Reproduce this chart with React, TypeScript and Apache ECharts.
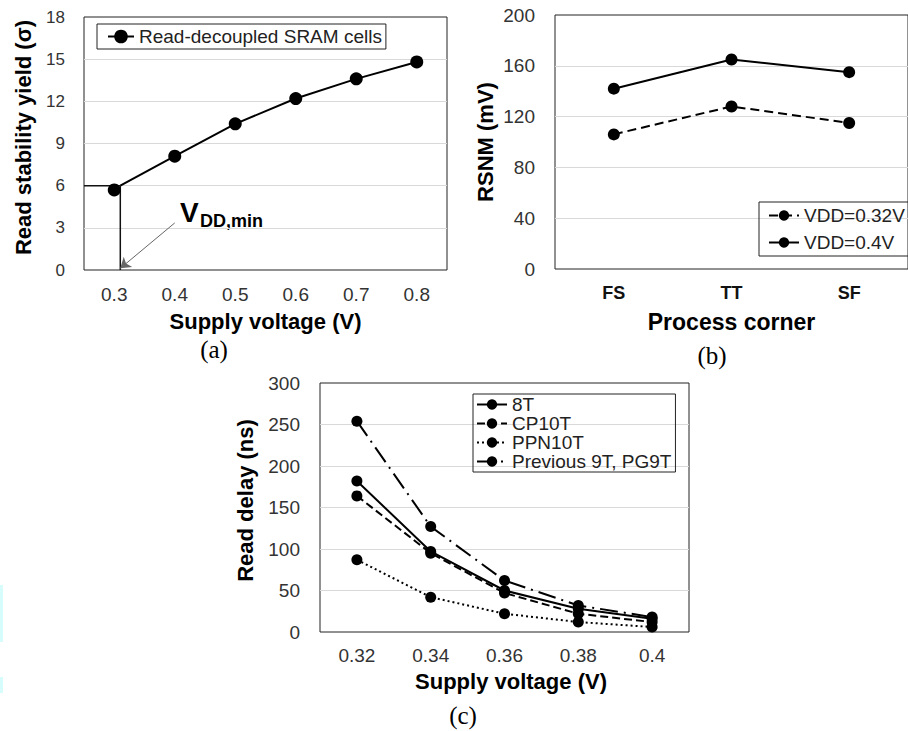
import React, { useEffect, useRef } from "react";
import * as echarts from "echarts";

// ---- Panel (a): read stability yield ----
const voltA = [0.3, 0.4, 0.5, 0.6, 0.7, 0.8];
const yieldA = [5.7, 8.1, 10.4, 12.2, 13.6, 14.8];
const vddMin = 0.31;
const yieldTarget = 6;
const arrowFrom = [0.4, 3.35];
const arrowTo = [0.31, 0.12];

// ---- Panel (b): RSNM by process corner ----
const corners = ["FS", "TT", "SF"];
const rsnm032 = [106, 128, 115];
const rsnm04 = [142, 165, 155];

// ---- Panel (c): read delay ----
const voltC = ["0.32", "0.34", "0.36", "0.38", "0.4"];
const delay8T = [182, 97, 50, 28, 16];
const delayCP10T = [164, 95, 47, 22, 12];
const delayPPN10T = [87, 42, 22, 12, 6];
const delayPG9T = [254, 127, 62, 32, 18];

const FONT = "'Liberation Sans', Arial, sans-serif";
const SERIF = "'Liberation Serif', 'Times New Roman', serif";
const GRID_COLOR = "#d9d9d9";
const BORDER = "#222";
const LABEL = "#333";

const nameStyle = (extra: any = {}) => ({
  fontSize: 22,
  fontWeight: "bold",
  color: "#000",
  fontFamily: FONT,
  ...extra,
});

const ySplit = {
  show: true,
  showMinLine: false,
  showMaxLine: false,
  lineStyle: { color: GRID_COLOR, width: 1 },
};

export default function App() {
  const ref = useRef<HTMLDivElement>(null);

  useEffect(() => {
    if (!ref.current) return;
    const chart = echarts.init(ref.current, undefined, { renderer: "svg" });

    const legendCommon = {
      borderColor: BORDER,
      borderWidth: 1,
      selectedMode: false,
      textStyle: { fontSize: 19, color: "#222", fontFamily: FONT },
    };

    const option: any = {
      animation: false,
      backgroundColor: "#fff",
      textStyle: { fontFamily: FONT },
      grid: [
        { left: 84, top: 17, width: 363, height: 253, show: true, borderColor: BORDER, borderWidth: 1 },
        { left: 555, top: 15, width: 363, height: 254, show: true, borderColor: BORDER, borderWidth: 1 },
        { left: 320, top: 383, width: 369, height: 249, show: true, borderColor: BORDER, borderWidth: 1 },
      ],
      xAxis: [
        {
          gridIndex: 0,
          type: "value",
          min: 0.25,
          max: 0.85,
          splitLine: { show: false },
          axisTick: { show: false },
          axisLine: { show: false },
          axisLabel: {
            customValues: voltA,
            formatter: (v: number) => Number(v).toFixed(1),
            fontSize: 19,
            color: LABEL,
            margin: 15,
            fontFamily: FONT,
          },
          name: "Supply voltage (V)",
          nameLocation: "middle",
          nameGap: 40,
          nameTextStyle: nameStyle(),
        },
        {
          gridIndex: 1,
          type: "category",
          data: corners,
          splitLine: { show: false },
          axisTick: { show: false },
          axisLine: { show: false },
          axisLabel: { fontSize: 18, fontWeight: "bold", color: "#111", margin: 15, fontFamily: FONT },
          name: "Process corner",
          nameLocation: "middle",
          nameGap: 41,
          nameTextStyle: nameStyle({ fontSize: 23 }),
        },
        {
          gridIndex: 2,
          type: "category",
          data: voltC,
          splitLine: { show: false },
          axisTick: { show: false },
          axisLine: { show: false },
          axisLabel: { fontSize: 19, color: LABEL, margin: 14, fontFamily: FONT },
          name: "Supply voltage (V)",
          nameLocation: "middle",
          nameGap: 38,
          nameTextStyle: nameStyle({ padding: [0, 0, 0, 13] }),
        },
      ],
      yAxis: [
        {
          gridIndex: 0,
          type: "value",
          min: 0,
          max: 18,
          interval: 3,
          splitLine: ySplit,
          axisTick: { show: false },
          axisLine: { show: false },
          axisLabel: { fontSize: 17, color: LABEL, margin: 19, fontFamily: FONT },
          name: "Read stability yield (σ)",
          nameLocation: "middle",
          nameGap: 50,
          nameTextStyle: nameStyle({ padding: [0, 0, 0, 12] }),
        },
        {
          gridIndex: 1,
          type: "value",
          min: 0,
          max: 200,
          interval: 40,
          splitLine: ySplit,
          axisTick: { show: false },
          axisLine: { show: false },
          axisLabel: { fontSize: 19, color: LABEL, margin: 20, fontFamily: FONT },
          name: "RSNM (mV)",
          nameLocation: "middle",
          nameGap: 59,
          nameTextStyle: nameStyle(),
        },
        {
          gridIndex: 2,
          type: "value",
          min: 0,
          max: 300,
          interval: 50,
          splitLine: ySplit,
          axisTick: { show: false },
          axisLine: { show: false },
          axisLabel: { fontSize: 19, color: LABEL, margin: 20, fontFamily: FONT },
          name: "Read delay (ns)",
          nameLocation: "middle",
          nameGap: 64,
          nameTextStyle: nameStyle({ padding: [0, 0, 0, 14] }),
        },
      ],
      legend: [
        {
          ...legendCommon,
          left: 97,
          top: 24,
          orient: "horizontal",
          itemWidth: 26,
          itemHeight: 17,
          padding: [3, 4, 3, 10],
          data: [
            {
              name: "Read-decoupled SRAM cells",
              lineStyle: { opacity: 1, width: 2, color: "#000", type: "solid" },
            },
          ],
        },
        {
          ...legendCommon,
          left: 759,
          top: 202,
          orient: "vertical",
          itemWidth: 30,
          itemHeight: 13,
          itemGap: 8,
          padding: [4, 5, 4, 9],
          data: ["VDD=0.32V", "VDD=0.4V"],
        },
        {
          ...legendCommon,
          left: 473,
          top: 394,
          orient: "vertical",
          itemWidth: 30,
          itemHeight: 13,
          itemGap: 0,
          padding: [1, 4, 1, 3],
          data: ["8T", "CP10T", "PPN10T", "Previous 9T, PG9T"],
        },
      ],
      series: [
        // (a) markers
        {
          name: "Read-decoupled SRAM cells",
          type: "line",
          xAxisIndex: 0,
          yAxisIndex: 0,
          data: voltA.map((v, i) => [v, yieldA[i]]),
          symbol: "circle",
          symbolSize: 13,
          itemStyle: { color: "#000" },
          lineStyle: { opacity: 0, width: 2, color: "#000" },
          z: 4,
        },
        // (a) curve starting at VDD,min corner
        {
          name: "curveA",
          type: "line",
          xAxisIndex: 0,
          yAxisIndex: 0,
          data: [[vddMin, yieldTarget], ...voltA.slice(1).map((v, i) => [v, yieldA[i + 1]])],
          symbol: "none",
          lineStyle: { color: "#000", width: 2 },
          z: 3,
        },
        // (a) VDD,min guide lines + arrow
        {
          name: "vddGuide",
          type: "line",
          xAxisIndex: 0,
          yAxisIndex: 0,
          data: [
            [0.25, yieldTarget],
            [vddMin, yieldTarget],
            [vddMin, 0],
          ],
          symbol: "none",
          lineStyle: { color: "#111", width: 1.5 },
          z: 3,
          markLine: {
            silent: true,
            symbol: ["none", "arrow"],
            symbolSize: 10,
            label: { show: false },
            lineStyle: { color: "#666", width: 1, type: "solid" },
            data: [[{ coord: arrowFrom }, { coord: arrowTo }]],
          },
        },
        // (b)
        {
          name: "VDD=0.32V",
          type: "line",
          xAxisIndex: 1,
          yAxisIndex: 1,
          data: rsnm032,
          symbol: "circle",
          symbolSize: 12,
          itemStyle: { color: "#000" },
          lineStyle: { color: "#000", width: 2, type: [9, 5] },
        },
        {
          name: "VDD=0.4V",
          type: "line",
          xAxisIndex: 1,
          yAxisIndex: 1,
          data: rsnm04,
          symbol: "circle",
          symbolSize: 12,
          itemStyle: { color: "#000" },
          lineStyle: { color: "#000", width: 2 },
        },
        // (c)
        {
          name: "8T",
          type: "line",
          xAxisIndex: 2,
          yAxisIndex: 2,
          data: delay8T,
          symbol: "circle",
          symbolSize: 11,
          itemStyle: { color: "#000" },
          lineStyle: { color: "#000", width: 2 },
        },
        {
          name: "CP10T",
          type: "line",
          xAxisIndex: 2,
          yAxisIndex: 2,
          data: delayCP10T,
          symbol: "circle",
          symbolSize: 11,
          itemStyle: { color: "#000" },
          lineStyle: { color: "#000", width: 2, type: [8, 4] },
        },
        {
          name: "PPN10T",
          type: "line",
          xAxisIndex: 2,
          yAxisIndex: 2,
          data: delayPPN10T,
          symbol: "circle",
          symbolSize: 11,
          itemStyle: { color: "#000" },
          lineStyle: { color: "#000", width: 2, type: [2, 3] },
        },
        {
          name: "Previous 9T, PG9T",
          type: "line",
          xAxisIndex: 2,
          yAxisIndex: 2,
          data: delayPG9T,
          symbol: "circle",
          symbolSize: 11,
          itemStyle: { color: "#000" },
          lineStyle: { color: "#000", width: 2, type: [18, 6, 2, 6] },
        },
      ],
      graphic: [
        {
          type: "text",
          left: 180,
          top: 198,
          style: { text: "V", fontSize: 28, fontWeight: "bold", fill: "#000", fontFamily: FONT },
        },
        {
          type: "text",
          left: 200,
          top: 212,
          style: { text: "DD,min", fontSize: 18, fontWeight: "bold", fill: "#000", fontFamily: FONT },
        },
        {
          type: "text",
          x: 214,
          y: 349,
          style: { text: "(a)", fontSize: 25, fill: "#000", fontFamily: SERIF, align: "center", verticalAlign: "middle" },
        },
        {
          type: "text",
          x: 712,
          y: 355,
          style: { text: "(b)", fontSize: 25, fill: "#000", fontFamily: SERIF, align: "center", verticalAlign: "middle" },
        },
        {
          type: "text",
          x: 463,
          y: 715,
          style: { text: "(c)", fontSize: 25, fill: "#000", fontFamily: SERIF, align: "center", verticalAlign: "middle" },
        },
        { type: "rect", shape: { x: 0, y: 585, width: 3, height: 57 }, style: { fill: "#d6fcfc" }, silent: true },
        { type: "rect", shape: { x: 0, y: 677, width: 3, height: 16 }, style: { fill: "#d6fcfc" }, silent: true },
      ],
    };

    chart.setOption(option);
    return () => chart.dispose();
  }, []);

  return (
    <div
      ref={ref}
      style={{ position: "absolute", left: 0, top: 0, width: 908, height: 731, background: "#fff" }}
    />
  );
}
